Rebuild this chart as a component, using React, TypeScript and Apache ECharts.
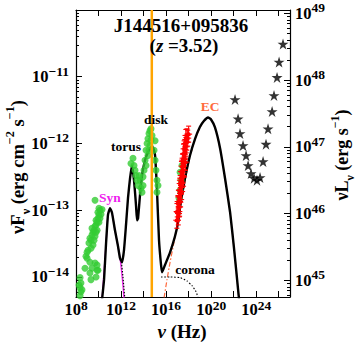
import React, { useEffect, useRef } from "react";
import * as echarts from "echarts";

const FONT = "'Liberation Serif', 'DejaVu Serif', serif";

// ---- axis ranges (log10 space) ----
const logNuMin = 8;
const logNuMax = 27;
const logFluxMin = -14.3;
const logFluxMax = -10;
const logLumOffset = 59.05; // log10(4 pi d_L^2) for z = 3.52

// ---- ticks ----
const xTickValues = [8, 10, 12, 14, 16, 18, 20, 22, 24, 26];
const xLabelValues = [8, 12, 16, 20, 24];
const yTickValues = [-14, -13, -12, -11, -10];
const yLabelValues = [-14, -13, -12, -11];
const rTickValues = [45, 46, 47, 48, 49];
const rLabelValues = [45, 46, 47, 48, 49];
const minorFactors = [2, 3, 4, 5, 6, 7, 8, 9];
const yMinorDecades = [-15, -14, -13, -12, -11];
const rMinorDecades = [44, 45, 46, 47, 48, 49];

// ---- model curves: [log nu, log nuFnu] ----
const totalModel = [
  [10.31, -14.34], [10.49, -14.04], [10.66, -13.52], [10.84, -13.07], [11.02, -12.97],
  [11.2, -13.04], [11.46, -13.3], [11.73, -13.54], [11.91, -13.72], [12.09, -13.78],
  [12.26, -13.6], [12.44, -13.22], [12.62, -12.81], [12.8, -12.52], [12.97, -12.33],
  [13.15, -12.55], [13.33, -12.93], [13.42, -13.15], [13.51, -13.12], [13.68, -12.78],
  [13.86, -12.48], [14.13, -12.25], [14.39, -12.13], [14.66, -12.06], [14.84, -12.06],
  [15.02, -12.18], [15.19, -12.7], [15.37, -13.45], [15.55, -13.82], [15.64, -13.93],
  [15.9, -13.82], [16.35, -13.63], [16.79, -13.39], [17.06, -13.18], [17.33, -12.85],
  [17.68, -12.52], [18.12, -12.18], [18.57, -11.93], [19.01, -11.75], [19.37, -11.66],
  [19.72, -11.61], [19.99, -11.64], [20.34, -11.76], [20.79, -12.07], [21.23, -12.52],
  [21.68, -13.03], [22.03, -13.57], [22.39, -14.19], [22.48, -14.34],
];
const synModel = [
  [10.31, -14.34], [10.66, -13.52], [10.84, -13.07], [11.02, -12.97], [11.2, -13.04],
  [11.46, -13.3], [11.73, -13.54], [11.91, -13.72], [12.05, -13.92], [12.18, -14.15], [12.28, -14.36],
];
const torusTail = [[12.0, -13.73], [12.17, -14.0], [12.35, -14.36]];
const ecModel = [
  [15.82, -14.31], [16.08, -14.04], [16.35, -13.78], [16.7, -13.48], [16.97, -13.25],
  [17.33, -12.9], [17.68, -12.55], [18.12, -12.2], [18.57, -11.94], [19.01, -11.76],
  [19.37, -11.66], [19.72, -11.61], [19.99, -11.64], [20.34, -11.76], [20.79, -12.07],
  [21.23, -12.52], [21.68, -13.03], [22.03, -13.57], [22.39, -14.19], [22.48, -14.34],
];
const coronaModel = [
  [15.55, -14.0], [16.35, -14.0], [17.24, -14.01], [17.86, -14.06], [18.3, -14.13],
  [18.66, -14.22], [18.83, -14.31], [18.9, -14.4],
];
const markerLogNu = 14.73;

// ---- observed data ----
const greenRadio = [
  [8.36, -14.01], [8.44, -14.09], [8.36, -14.16], [8.44, -14.22], [8.36, -14.28], [8.27, -14.12], [8.53, -14.19],
  [8.8, -13.87], [8.98, -13.63], [8.89, -13.69], [9.07, -13.6], [8.98, -13.72],
  [9.24, -13.78], [9.42, -13.87], [9.69, -13.79], [9.87, -13.9], [9.24, -13.94], [9.33, -14.04],
  [9.78, -14.0], [9.95, -13.9], [9.87, -13.82],
  [9.15, -13.49], [9.24, -13.42], [9.33, -13.45], [9.42, -13.37], [9.51, -13.33], [9.6, -13.3],
  [9.69, -13.24], [9.78, -13.22], [9.78, -13.15], [9.87, -13.18], [9.95, -13.12], [10.04, -13.07],
  [9.95, -13.03], [10.13, -13.0], [9.87, -13.3], [9.69, -13.39], [9.51, -13.52], [9.33, -13.57],
  [9.6, -13.45], [10.04, -13.18], [10.13, -13.12], [10.22, -13.06], [9.42, -13.27], [9.78, -13.33],
  [10.04, -12.97], [9.69, -12.85], [10.31, -12.99],
];
const greenOptical = [
  [12.88, -12.3], [13.06, -12.22], [13.15, -12.33], [13.24, -12.4], [13.33, -12.48], [13.42, -12.55],
  [13.51, -12.63], [13.6, -12.48], [13.68, -12.55], [13.77, -12.67], [13.86, -12.73], [13.95, -12.63],
  [14.04, -12.4], [14.13, -12.25], [14.22, -12.1], [14.31, -12.0], [14.39, -11.93], [14.48, -11.85],
  [14.57, -11.81], [14.66, -11.78], [14.75, -11.88], [14.57, -12.03], [14.39, -12.18], [14.22, -12.33],
  [14.93, -12.1], [15.02, -12.25], [15.1, -12.4], [15.19, -12.55], [15.28, -12.63], [15.19, -12.73],
  [15.02, -11.96], [14.48, -12.1], [14.66, -11.95], [13.95, -12.5],
];
const greenXray = [[17.24, -12.43], [17.33, -12.55], [17.24, -12.7], [17.15, -12.82], [17.41, -12.33]];
// [log nu, log nuFnu, error (dex)]
const xrayPoints = [
  [16.95, -13.15, 0.12], [17.1, -13.05, 0.1], [16.98, -13.02, 0.15], [17.15, -12.95, 0.1], [17.05, -12.9, 0.12],
  [17.22, -12.88, 0.14], [17.12, -12.8, 0.1], [17.28, -12.75, 0.12], [17.18, -12.7, 0.15], [17.35, -12.66, 0.1],
  [17.25, -12.6, 0.12], [17.4, -12.58, 0.14], [17.3, -12.52, 0.1], [17.47, -12.48, 0.12], [17.36, -12.42, 0.15],
  [17.52, -12.4, 0.1], [17.42, -12.34, 0.12], [17.58, -12.3, 0.14], [17.48, -12.25, 0.1], [17.64, -12.22, 0.12],
  [17.54, -12.16, 0.15], [17.7, -12.14, 0.1], [17.6, -12.08, 0.12], [17.76, -12.05, 0.14], [17.68, -12.0, 0.12],
  [17.84, -11.98, 0.12], [17.75, -11.94, 0.15], [17.92, -11.92, 0.12], [17.85, -11.88, 0.1], [18.0, -11.86, 0.12],
  [17.2, -12.95, 0.14], [17.08, -13.1, 0.12], [17.38, -12.72, 0.12], [17.55, -12.5, 0.14], [17.72, -12.28, 0.12],
];
const gammaStars = [
  [22.12, -11.34], [22.39, -11.63], [22.56, -11.85], [22.83, -12.03], [23.1, -12.18], [23.28, -12.33],
  [23.54, -12.45], [23.81, -12.52], [24.07, -12.55], [24.34, -12.51], [24.61, -12.27], [24.87, -12.01],
  [25.05, -11.78], [25.41, -11.52], [25.58, -11.28], [25.85, -11.01], [26.03, -10.78], [26.38, -10.51],
];

const STAR =
  "path://M100,0 L122.45,69.1 L195.1,69.1 L136.3,111.8 L158.8,180.9 L100,138.2 L41.2,180.9 L63.7,111.8 L4.9,69.1 L77.55,69.1 Z";

const minorTicks = (decades: number[], lo: number, hi: number) => {
  const out: number[] = [];
  decades.forEach((n) => minorFactors.forEach((k) => {
    const v = n + Math.log10(k);
    if (v > lo && v < hi) out.push(v);
  }));
  return out;
};

const powLabel = (v: number) => {
  const n = Math.round(v);
  return `{b|10}{s|${n < 0 ? "\u2212" + -n : n}}`;
};
const mkTickRich = (lh: number) => ({
  b: { fontFamily: FONT, fontSize: 16.5, fontWeight: "bold", color: "#000", lineHeight: lh, verticalAlign: "middle" },
  s: { fontFamily: FONT, fontSize: 13.5, fontWeight: "bold", color: "#000", verticalAlign: "top" },
});
const tickRich = mkTickRich(25);
const xTickRich = mkTickRich(23);
const axisLine = { show: true, onZero: false, lineStyle: { color: "#000", width: 1.2 } };

export default function App() {
  const ref = useRef<HTMLDivElement>(null);
  useEffect(() => {
    if (!ref.current) return;
    const chart = echarts.init(ref.current, null, { renderer: "svg" });
    const yMinor = minorTicks(yMinorDecades, logFluxMin, logFluxMax);
    const rMinor = minorTicks(rMinorDecades, logFluxMin + logLumOffset, logFluxMax + logLumOffset);
    const lineS = (data: number[][], color: string, width: number, type: any, z: number) => ({
      type: "line", data, showSymbol: false, symbol: "none", smooth: 0.15, z,
      lineStyle: { color, width, type }, silent: true, clip: true,
    });
    const mkRich = (size: number, lhExtra = 9) => ({
      a: { fontFamily: FONT, fontSize: size, fontWeight: "bold", color: "#000", lineHeight: size + lhExtra, verticalAlign: "middle" },
      i: { fontFamily: FONT, fontSize: size, fontWeight: "bold", fontStyle: "italic", color: "#000", lineHeight: size + lhExtra, verticalAlign: "middle" },
      sb: { fontFamily: FONT, fontSize: size * 0.66, fontWeight: "bold", color: "#000", verticalAlign: "bottom" },
      sp: { fontFamily: FONT, fontSize: size * 0.66, fontWeight: "bold", color: "#000", verticalAlign: "top" },
    });
    const txt = (x: number, y: number, text: string, size: number, color = "#000", extra: any = {}) => ({
      type: "text", x, y, z: 100, rotation: extra.rotation || 0,
      style: {
        text, fill: color, font: `${extra.weight || "normal"} ${size}px ${FONT}`,
        textAlign: "center", textVerticalAlign: "middle", align: "center", verticalAlign: "middle",
        rich: extra.rich,
      },
    });
    chart.setOption({
      animation: false,
      grid: { left: 76, top: 10, width: 214, height: 287, containLabel: false, outerBoundsMode: "none" },
      xAxis: [
        {
          type: "value", min: logNuMin, max: logNuMax, position: "bottom", axisLine,
          axisTick: { show: true, inside: true, length: 6, customValues: xTickValues, lineStyle: { color: "#000" } },
          axisLabel: { show: true, customValues: xLabelValues, formatter: powLabel, rich: xTickRich, margin: 1 },
          splitLine: { show: false },
        },
        {
          type: "value", min: logNuMin, max: logNuMax, position: "top", axisLine,
          axisTick: { show: true, inside: true, length: 6, customValues: xTickValues, lineStyle: { color: "#000" } },
          axisLabel: { show: false }, splitLine: { show: false },
        },
      ],
      yAxis: [
        {
          type: "value", min: logFluxMin, max: logFluxMax, position: "left", axisLine,
          axisTick: { show: true, inside: true, length: 6, customValues: yTickValues, lineStyle: { color: "#000" } },
          axisLabel: { show: true, customValues: yLabelValues, formatter: powLabel, rich: tickRich, margin: 7 },
          splitLine: { show: false },
        },
        {
          type: "value", min: logFluxMin, max: logFluxMax, position: "left", axisLine: { show: false },
          axisTick: { show: true, inside: true, length: 3, customValues: yMinor, lineStyle: { color: "#000" } },
          axisLabel: { show: false }, splitLine: { show: false },
        },
        {
          type: "value", min: logFluxMin + logLumOffset, max: logFluxMax + logLumOffset, position: "right", axisLine,
          axisTick: { show: true, inside: true, length: 6, customValues: rTickValues, lineStyle: { color: "#000" } },
          axisLabel: { show: true, customValues: rLabelValues, formatter: powLabel, rich: tickRich, margin: 5 },
          splitLine: { show: false },
        },
        {
          type: "value", min: logFluxMin + logLumOffset, max: logFluxMax + logLumOffset, position: "right",
          axisLine: { show: false },
          axisTick: { show: true, inside: true, length: 3, customValues: rMinor, lineStyle: { color: "#000" } },
          axisLabel: { show: false }, splitLine: { show: false },
        },
      ],
      series: [
        lineS(synModel, "#ee22ee", 1.3, "solid", 2),
        lineS(torusTail, "#000", 1.2, [1.5, 1.5], 2),
        lineS(ecModel, "#ff6a3d", 1.2, [5, 2, 1.5, 2], 2),
        lineS(coronaModel, "#000", 1.1, [1.5, 1.8], 2),
        lineS(totalModel, "#000", 2.4, "solid", 3),
        {
          type: "scatter", data: [...greenRadio, ...greenOptical, ...greenXray], symbol: "circle", symbolSize: 7,
          itemStyle: { color: "#33cc33" }, z: 4, silent: true,
        },
        {
          type: "custom", data: xrayPoints, z: 5, silent: true, encode: { x: 0, y: 1 },
          renderItem: (_p: any, api: any) => {
            const x = api.value(0), y = api.value(1), e = api.value(2);
            const c = api.coord([x, y]);
            const lo = api.coord([x, y - e]);
            const hi = api.coord([x, y + e]);
            const st = { stroke: "#ff0000", lineWidth: 1.1 };
            return {
              type: "group",
              children: [
                { type: "line", shape: { x1: c[0], y1: lo[1], x2: c[0], y2: hi[1] }, style: st },
                { type: "line", shape: { x1: c[0] - 2.5, y1: lo[1], x2: c[0] + 2.5, y2: lo[1] }, style: st },
                { type: "line", shape: { x1: c[0] - 2.5, y1: hi[1], x2: c[0] + 2.5, y2: hi[1] }, style: st },
                { type: "line", shape: { x1: c[0] - 3.5, y1: c[1], x2: c[0] + 3.5, y2: c[1] }, style: st },
                { type: "circle", shape: { cx: c[0], cy: c[1], r: 2 }, style: { fill: "#ff0000" } },
              ],
            };
          },
        },
        {
          type: "line", data: [[markerLogNu, logFluxMin], [markerLogNu, logFluxMax]], showSymbol: false,
          symbol: "none", z: 6, silent: true, lineStyle: { color: "#ffa500", width: 2.5 },
        },
        {
          type: "scatter", data: gammaStars, symbol: STAR, symbolSize: 11, itemStyle: { color: "#000" }, z: 6, silent: true,
        },
      ],
      graphic: [
        txt(181, 25, "J144516+095836", 19, "#000", { weight: "bold" }),
        txt(184, 45, "{a|(}{i|z}{a| =3.52)}", 19, "#000", { weight: "bold", rich: mkRich(19) }),
        txt(156, 119, "disk", 13.5, "#000", { weight: "bold" }),
        txt(126, 146, "torus", 13.5, "#000", { weight: "bold" }),
        txt(110, 197, "Syn", 13.5, "#ee22ee", { weight: "bold" }),
        txt(210, 106, "EC", 13.5, "#ff6a3d", { weight: "bold" }),
        txt(195, 269, "corona", 13.5, "#000", { weight: "bold" }),
        txt(182, 331, "{i|\u03bd}{a| (Hz)}", 19, "#000", { weight: "bold", rich: mkRich(19, 0) }),
        txt(18, 167, "{a|\u03bdF}{sb|\u03bd}{a| (erg cm}{sp|\u22122}{a| s}{sp|\u22121}{a|)}", 18.5, "#000",
          { weight: "bold", rich: mkRich(18.5), rotation: Math.PI / 2 }),
        txt(342, 155, "{a|\u03bdL}{sb|\u03bd}{a| (erg s}{sp|\u22121}{a|)}", 18, "#000",
          { weight: "bold", rich: mkRich(18), rotation: Math.PI / 2 }),
      ],
    });
    return () => chart.dispose();
  }, []);
  return <div ref={ref} style={{ position: "absolute", left: 0, top: 0, width: 357, height: 345 }} />;
}
